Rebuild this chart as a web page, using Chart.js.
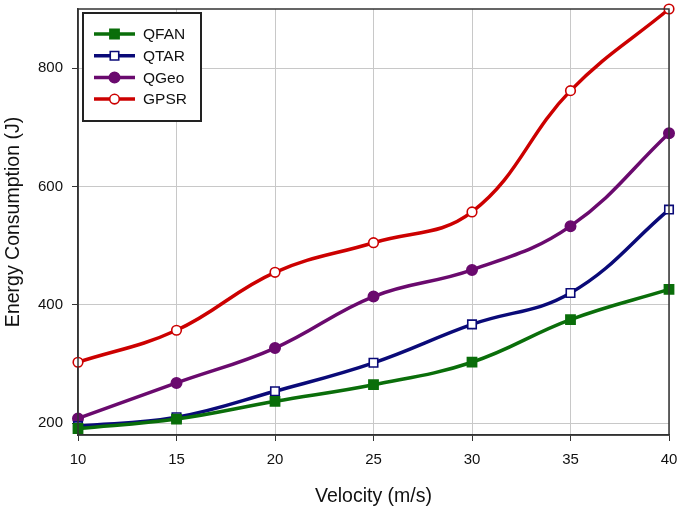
<!DOCTYPE html>
<html>
<head>
<meta charset="utf-8">
<script src="https://cdn.jsdelivr.net/npm/chart.js@4.4.0/dist/chart.umd.min.js"></script>
<style>
  html, body { margin: 0; padding: 0; background: #fff; }
  #wrap { width: 685px; height: 512px; }
</style>
</head>
<body>
<div id="wrap"><canvas id="chart" width="685" height="512"></canvas></div>
<script>
const velocity = [10, 15, 20, 25, 30, 35, 40];
const qfan = [191, 207, 237, 265, 303, 375, 426];
const qtar = [195, 210, 254, 302, 367, 420, 561];
const qgeo = [208, 268, 327, 414, 459, 533, 690];
const gpsr = [303, 357, 455, 505, 557, 762, 900];
const yTicks = [200, 400, 600, 800];
const xTicks = [10, 15, 20, 25, 30, 35, 40];

const FONT = "'Liberation Sans', Arial, sans-serif";

function pts(ys) {
  return velocity.map((x, i) => ({ x: x, y: ys[i] }));
}

function series(label, ys, color, style, filled, r) {
  return {
    label: label,
    data: pts(ys),
    borderColor: color,
    borderWidth: 3.5,
    tension: 0.4,
    pointStyle: style,
    pointRadius: r,
    pointBackgroundColor: filled ? color : "#fff",
    pointBorderColor: color,
    pointBorderWidth: 1.6,
    clip: false,
  };
}

// frame round the plot area
const frame = {
  id: "frame",
  afterDatasetsDraw(chart) {
    const a = chart.chartArea;
    const ctx = chart.ctx;
    ctx.save();
    ctx.strokeStyle = "#333";
    ctx.lineWidth = 1.5;
    ctx.strokeRect(a.left, a.top, a.right - a.left, a.bottom - a.top);
    ctx.restore();
  },
};

function marker(ctx, ds, x, y) {
  const r = ds.pointRadius;
  ctx.fillStyle = ds.pointBackgroundColor;
  ctx.strokeStyle = ds.pointBorderColor;
  ctx.lineWidth = ds.pointBorderWidth;
  ctx.beginPath();
  if (ds.pointStyle === "rect") {
    const s = r * Math.SQRT1_2;
    ctx.rect(x - s, y - s, 2 * s, 2 * s);
  } else {
    ctx.arc(x, y, r, 0, Math.PI * 2);
  }
  ctx.fill();
  ctx.stroke();
}

// boxed legend in the top left corner
const boxLegend = {
  id: "boxLegend",
  afterDraw(chart) {
    const a = chart.chartArea;
    const ctx = chart.ctx;
    const bx = a.left + 5, by = a.top + 4, bw = 118, bh = 108;
    ctx.save();
    ctx.fillStyle = "#fff";
    ctx.fillRect(bx, by, bw, bh);
    ctx.strokeStyle = "#222";
    ctx.lineWidth = 2;
    ctx.strokeRect(bx, by, bw, bh);
    ctx.font = "15.5px " + FONT;
    ctx.textBaseline = "middle";
    chart.data.datasets.forEach((ds, i) => {
      const y = by + 21 + i * 21.7;
      ctx.strokeStyle = ds.borderColor;
      ctx.lineWidth = 3.5;
      ctx.beginPath();
      ctx.moveTo(bx + 11, y);
      ctx.lineTo(bx + 52, y);
      ctx.stroke();
      marker(ctx, ds, bx + 31.5, y);
      ctx.fillStyle = "#111";
      ctx.fillText(ds.label, bx + 60, y + 1);
    });
    ctx.restore();
  },
};

new Chart(document.getElementById("chart"), {
  type: "line",
  data: {
    datasets: [
      series("QFAN", qfan, "#0a6e0a", "rect", true, 6.5),
      series("QTAR", qtar, "#0a0a78", "rect", false, 6),
      series("QGeo", qgeo, "#6a0a6e", "circle", true, 5.2),
      series("GPSR", gpsr, "#cc0000", "circle", false, 4.8),
    ],
  },
  options: {
    responsive: false,
    animation: false,
    layout: { padding: { top: 9, right: 16, left: 0, bottom: 0 } },
    plugins: {
      legend: { display: false },
      tooltip: { enabled: false },
    },
    scales: {
      x: {
        type: "linear",
        min: 10,
        max: 40,
        afterBuildTicks: (s) => { s.ticks = xTicks.map((v) => ({ value: v })); },
        afterFit: (s) => { s.height = 77; s.paddingLeft = 0; s.paddingRight = 0; },
        grid: { color: "#c8c8c8", lineWidth: 1, tickColor: "#333", tickLength: 6 },
        border: { display: true, color: "#333", width: 1.5 },
        ticks: { color: "#111", font: { family: FONT, size: 15 }, padding: 10, maxRotation: 0 },
        title: {
          display: true,
          text: "Velocity (m/s)",
          color: "#111",
          font: { family: FONT, size: 19.5 },
          padding: { top: 4, bottom: 4 },
        },
      },
      y: {
        min: 180,
        max: 900,
        afterBuildTicks: (s) => { s.ticks = yTicks.map((v) => ({ value: v })); },
        afterFit: (s) => { s.width = 78; s.paddingTop = 0; s.paddingBottom = 0; },
        grid: { color: "#c8c8c8", lineWidth: 1, tickColor: "#333", tickLength: 6 },
        border: { display: true, color: "#333", width: 1.5 },
        ticks: { color: "#111", font: { family: FONT, size: 15 }, padding: 9 },
        title: {
          display: true,
          text: "Energy Consumption (J)",
          color: "#111",
          font: { family: FONT, size: 19.5 },
          padding: { top: 2, bottom: 4 },
        },
      },
    },
  },
  plugins: [frame, boxLegend],
});
</script>
</body>
</html>
